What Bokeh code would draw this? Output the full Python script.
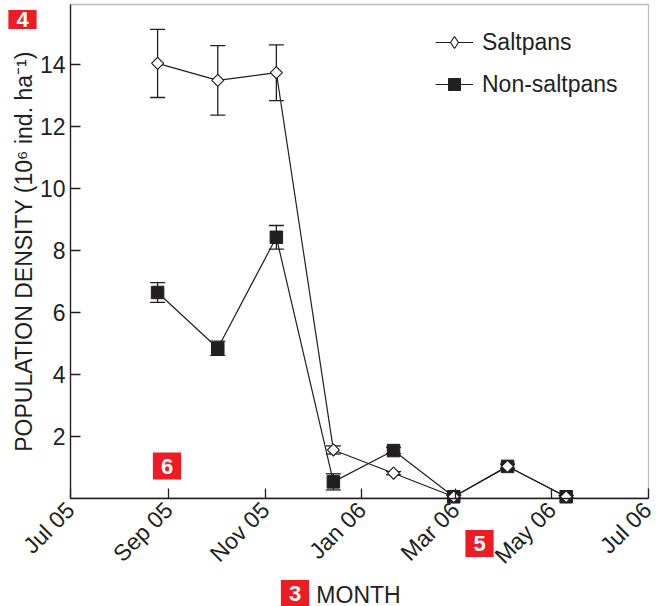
import numpy as np
import pandas as pd
from datetime import datetime
from bokeh.plotting import figure
from bokeh.models import (ColumnDataSource, Range1d, FixedTicker, MonthsTicker,
                          DatetimeTickFormatter, Whisker, TeeHead, Legend, LegendItem,
                          Label, BoxAnnotation)
from bokeh.embed import file_html
from bokeh.resources import INLINE

# ---- data ----
dates = ["2005-08-25", "2005-10-02", "2005-11-08", "2005-12-14",
         "2006-01-21", "2006-02-28", "2006-04-03", "2006-05-10"]
saltpans = [14.02, 13.47, 13.72, 1.55, 0.80, 0.04, 1.02, 0.04]
saltpans_err = [1.10, 1.12, 0.90, 0.13, 0.05, 0.05, 0.07, 0.04]
non_saltpans = [6.63, 4.83, 8.41, 0.52, 1.53, 0.04, 1.02, 0.04]
non_saltpans_err = [0.32, 0.23, 0.38, 0.26, 0.10, 0.05, 0.07, 0.04]
y_ticks = [2, 4, 6, 8, 10, 12, 14]
y_top = 15.92
x_start, x_end = "2005-07-01", "2006-07-01"
x_tick_months = [0, 2, 4, 6, 8, 10]   # Jan, Mar, May, Jul, Sep, Nov (0-based)
series_names = ["Saltpans", "Non-saltpans"]
x_title = "MONTH"
y_title = "POPULATION DENSITY (10\u2076 ind. ha\u207b\u00b9)"
badges = ["4", "6", "5", "3"]

INK = "#231f20"
RED = "#ed1c24"
FONT = "Liberation Sans"
W, H = 656, 606
FL, FR, FB = 70, 648, 497.5     # axis box in canvas pixels
PX_PER_UNIT = 31.0

d = pd.to_datetime(dates)
sp = np.array(saltpans)
spe = np.array(saltpans_err)
ns = np.array(non_saltpans)
nse = np.array(non_saltpans_err)

src_sp = ColumnDataSource(dict(x=d, y=sp, lo=sp - spe, hi=sp + spe))
src_ns = ColumnDataSource(dict(x=d, y=ns, lo=ns - nse, hi=ns + nse))

t0 = datetime.fromisoformat(x_start)
t1 = datetime.fromisoformat(x_end)
span = t1 - t0
px_w = FR - FL
x_lo = t0 - span * (FL / px_w)
x_hi = t1 + span * ((W - FR) / px_w)
y_lo = -(H - FB) / PX_PER_UNIT
y_hi = FB / PX_PER_UNIT

def ms(t):
    return pd.Timestamp(t).value / 1e6

p = figure(width=W, height=H, output_backend="svg", toolbar_location=None,
           x_axis_type="datetime",
           x_range=Range1d(x_lo, x_hi), y_range=Range1d(y_lo, y_hi),
           min_border=0)

p.xgrid.visible = False
p.ygrid.visible = False
p.outline_line_color = None
p.background_fill_color = "white"
p.border_fill_color = "white"

# axes, fixed at the data origin
p.xaxis.fixed_location = 0
p.xaxis.bounds = (ms(t0), ms(t1))
p.yaxis.fixed_location = ms(t0)
p.yaxis.bounds = (0, y_top)
p.yaxis.ticker = FixedTicker(ticks=y_ticks)
p.xaxis.ticker = MonthsTicker(months=x_tick_months)
p.xaxis.formatter = DatetimeTickFormatter(days="%b %y", months="%b %y", years="%b %y")
for ax in (p.xaxis[0], p.yaxis[0]):
    ax.axis_line_color = INK
    ax.axis_line_width = 1.3
    ax.major_tick_line_color = INK
    ax.major_tick_line_width = 1.3
    ax.major_tick_in = 10
    ax.major_tick_out = 0
    ax.minor_tick_line_color = None
    ax.major_label_text_font = FONT
    ax.major_label_text_font_size = "23px"
    ax.major_label_text_color = INK
p.xaxis.major_label_orientation = np.pi / 4
p.xaxis.major_label_standoff = 8
p.yaxis.major_label_standoff = 5
p.yaxis.axis_label = y_title
p.yaxis.axis_label_text_font = FONT
p.yaxis.axis_label_text_font_size = "23px"
p.yaxis.axis_label_text_font_style = "normal"
p.yaxis.axis_label_text_color = INK
p.yaxis.axis_label_standoff = 0

# plot box (top and right edges)
p.add_layout(BoxAnnotation(left=ms(t0), right=ms(t1), bottom=0, top=y_top,
                           fill_alpha=0, line_color=INK, line_width=1.3, level="underlay"))

# error bars
for src in (src_ns, src_sp):
    w = Whisker(base="x", lower="lo", upper="hi", source=src, level="underlay",
                line_color=INK, line_width=1.3,
                upper_head=TeeHead(size=15, line_color=INK, line_width=1.3),
                lower_head=TeeHead(size=15, line_color=INK, line_width=1.3))
    p.add_layout(w)

# non-saltpans
l_ns = p.line("x", "y", source=src_ns, line_color=INK, line_width=1.2)
m_ns = p.scatter("x", "y", source=src_ns, marker="square", size=12.5,
                 fill_color=INK, line_color=INK, line_width=1)
# legend symbol for saltpans: zero-size diamonds on the plot (legend sizes its own symbol)
lg_sp = p.scatter("x", "y", source=src_sp, marker="diamond", size=0,
                  fill_color="white", line_color=INK, line_width=1.2)
# saltpans
l_sp = p.line("x", "y", source=src_sp, line_color=INK, line_width=1.2)
m_sp = p.scatter("x", "y", source=src_sp, marker="square", angle=np.pi / 4, size=8.5,
                 fill_color="white", line_color=INK, line_width=1.2)

legend = Legend(items=[LegendItem(label=series_names[0], renderers=[l_sp, lg_sp]),
                       LegendItem(label=series_names[1], renderers=[l_ns, m_ns])],
                location=(435, 507), padding=0, spacing=12, glyph_width=38, glyph_height=30,
                label_height=30, label_standoff=9, label_text_font=FONT,
                label_text_font_size="23px", label_text_color=INK,
                border_line_alpha=0, background_fill_alpha=0)
p.add_layout(legend)

# x title
p.add_layout(Label(x=358, y=12, x_units="screen", y_units="screen", text=x_title,
                   text_font=FONT, text_font_size="23px", text_color=INK,
                   text_align="center", text_baseline="middle"))

# red badges
badge_pos = [(22, 587), (166.5, 140.5), (479, 63), (294.5, 13)]
badge_pad = [dict(left=8, right=8, top=2, bottom=2), dict(left=8, right=8, top=6, bottom=6),
             dict(left=8, right=8, top=6, bottom=6), dict(left=8, right=8, top=6, bottom=6)]
for t, (bx, by), pad in zip(badges, badge_pos, badge_pad):
    p.add_layout(Label(x=bx, y=by, x_units="screen", y_units="screen", text=t,
                       text_font=FONT, text_font_size="22px", text_font_style="bold",
                       text_color="white", text_align="center", text_baseline="middle",
                       background_fill_color=RED, padding=pad))

open("out.html", "w").write(file_html(p, INLINE))
